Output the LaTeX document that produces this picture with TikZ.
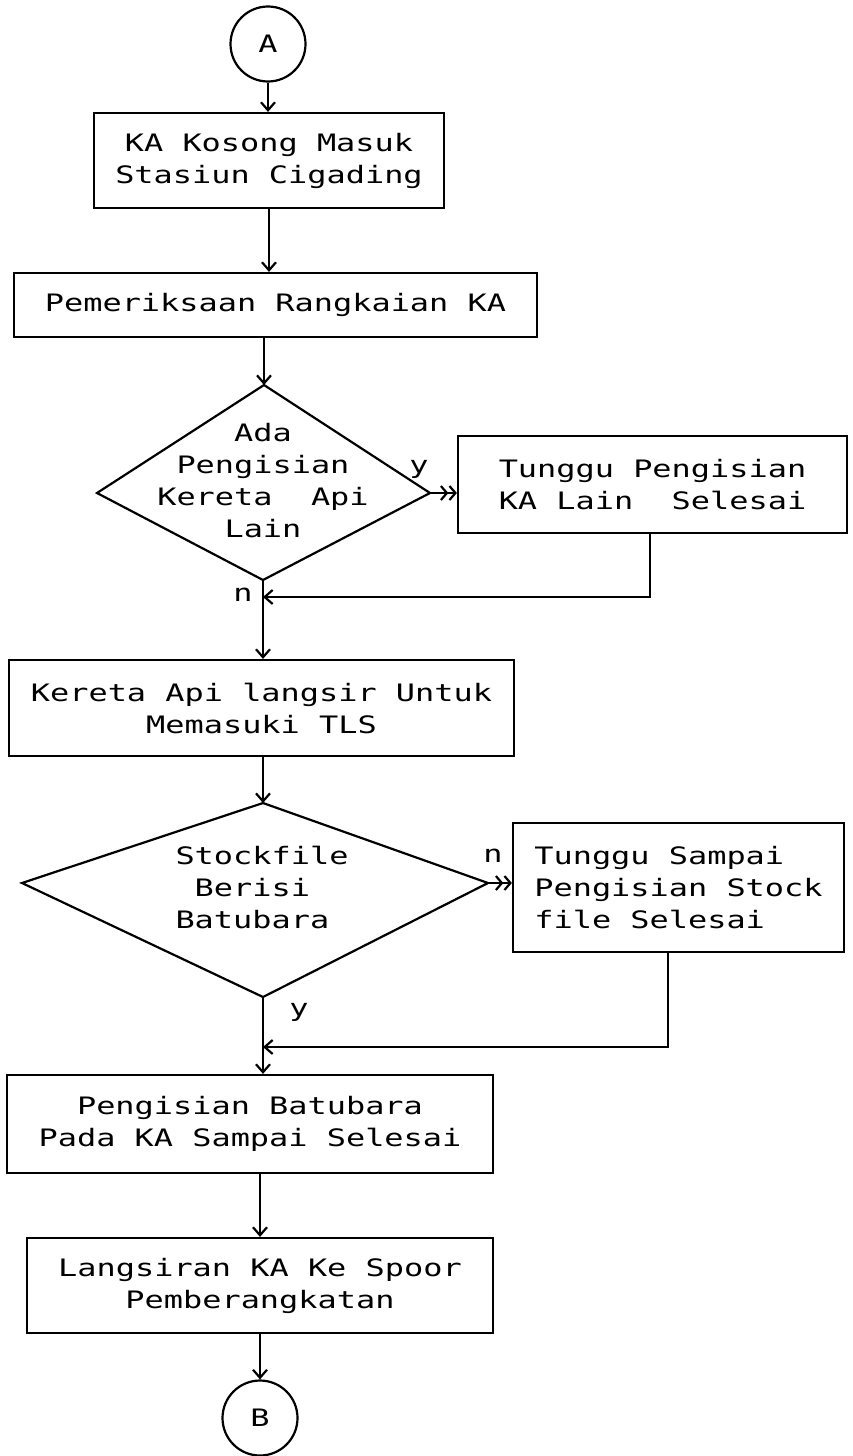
\documentclass[tikz,border=0pt]{standalone}
\usepackage{fontspec}
\newfontfamily\dotfont[FakeStretch=1.33]{DejaVu Sans Mono}
\usetikzlibrary{arrows.meta}
\begin{document}
\begin{tikzpicture}[x=1pt,y=-1pt,
  every node/.style={font=\dotfont\fontsize{24}{32}\selectfont},
  box/.style={draw, line width=2.2pt, rectangle, inner sep=0pt},
  conn/.style={circle, draw, line width=2.2pt, minimum size=75pt, inner sep=0pt},
  arr/.style={line width=2.2pt, -{Straight Barb[length=8pt,width=14pt]}},
  dbl/.style={line width=2.2pt, -{Straight Barb[length=6pt,width=14pt]Straight Barb[length=6pt,width=14pt]}},
  plain/.style={line width=2.2pt},
  lbl/.style={inner sep=0pt}
]
\fill[white] (0,0) rectangle (853,1456);
\useasboundingbox (0,0) rectangle (853,1456);

% start connector
\node[conn] (A) at (268,44) {A};
\node[box, minimum width=350pt, minimum height=95pt, align=center] (b1) at (269,160.5) {KA Kosong Masuk\\Stasiun Cigading};
\node[box, minimum width=523pt, minimum height=64pt] (b2) at (275.5,305) {Pemeriksaan Rangkaian KA};
\draw[arr] (A.south) -- (A.south |- b1.north);
\draw[arr] (b1.south) -- (b1.south |- b2.north);

% first decision
\coordinate (d1t) at (264,385);
\coordinate (d1r) at (430,493);
\coordinate (d1b) at (263,580);
\coordinate (d1l) at (97,493);
\draw[plain] (d1t) -- (d1r) -- (d1b) -- (d1l) -- cycle;
\node[align=center] (d1) at (263,481) {Ada\\Pengisian\\Kereta\ \ Api\\Lain};
\draw[arr] (d1t |- b2.south) -- (d1t);

\node[box, minimum width=389pt, minimum height=97pt, align=left] (r1) at (652.5,484.5) {Tunggu Pengisian\\KA Lain\ \ Selesai};
\draw[dbl] (d1r) -- (d1r -| r1.west);
\node[lbl] (y1) at (419,469) {y};
\coordinate (m1) at (263,597);
\draw[arr] ([xshift=-2.5pt]r1.south) |- (m1);
\node[lbl] (n1) at (243,595) {n};

\node[box, minimum width=505pt, minimum height=96pt, align=center] (b3) at (261.5,708) {Kereta Api langsir Untuk\\Memasuki TLS};
\draw[arr] (d1b) -- (d1b |- b3.north);

% second decision
\coordinate (d2t) at (263,803);
\coordinate (d2r) at (488,883);
\coordinate (d2b) at (263,997);
\coordinate (d2l) at (22,883);
\draw[plain] (d2t) -- (d2r) -- (d2b) -- (d2l) -- cycle;
\node[align=left] (d2) at (262,887) {Stockfile\\\phantom{S}Berisi\\Batubara};
\draw[arr] (d2t |- b3.south) -- (d2t);

\node[box, minimum width=331pt, minimum height=129pt, align=left] (r2) at (678.5,887.5) {Tunggu Sampai\\Pengisian Stock\\file Selesai};
\draw[dbl] (d2r) -- (d2r -| r2.west);
\node[lbl] (n2) at (493,856) {n};
\coordinate (m2) at (263,1047);
\draw[arr] ([xshift=-10.5pt]r2.south) |- (m2);
\node[lbl] (y2) at (299,1012) {y};

\node[box, minimum width=486pt, minimum height=98pt, align=center] (b4) at (250,1124) {Pengisian Batubara\\Pada KA Sampai Selesai};
\draw[arr] (d2b) -- (d2b |- b4.north);

\node[box, minimum width=466pt, minimum height=95pt, align=center] (b5) at (260,1285.5) {Langsiran KA Ke Spoor\\Pemberangkatan};
\draw[arr] (b5.north |- b4.south) -- (b5.north);

\node[conn] (B) at (260,1418) {B};
\draw[arr] (b5.south) -- (B.north);
\end{tikzpicture}
\end{document}
